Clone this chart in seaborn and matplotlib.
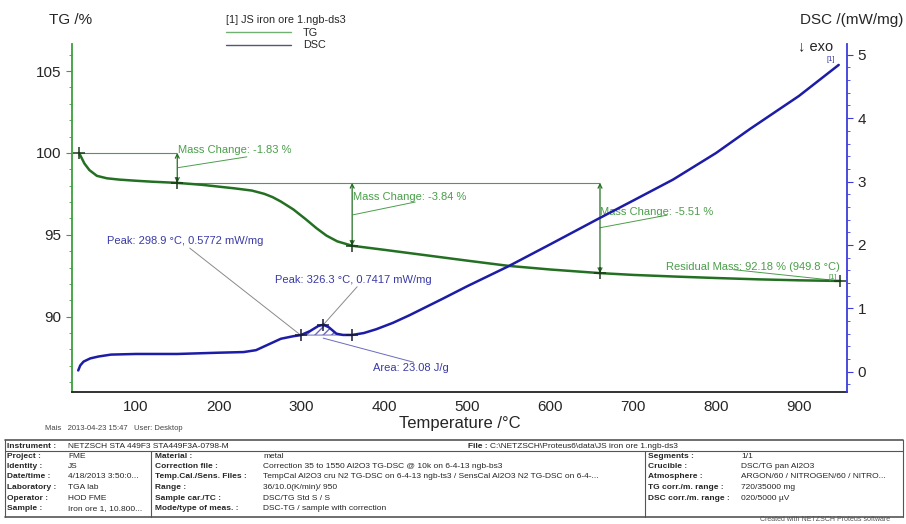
import numpy as np
import pandas as pd
import matplotlib.pyplot as plt
from matplotlib.lines import Line2D
import seaborn as sns

# TG curve (temperature / degC, mass / %)
tg_temp = [31.5, 34, 38, 44, 53, 65, 80, 100, 120, 150, 180, 200, 220, 240, 255,
           265, 275, 290, 305, 318, 330, 343, 361, 400, 450, 500, 550, 600, 660,
           700, 750, 800, 850, 900, 949.8]
tg_mass = [100.0, 99.75, 99.35, 98.95, 98.6, 98.45, 98.37, 98.3, 98.24, 98.17, 98.05,
           97.94, 97.83, 97.7, 97.5, 97.3, 97.03, 96.55, 95.95, 95.4, 94.95, 94.6,
           94.33, 94.08, 93.75, 93.42, 93.1, 92.88, 92.66, 92.55, 92.45, 92.36, 92.28,
           92.22, 92.18]

# DSC curve (temperature / degC, mW/mg)
dsc_temp = [30.5, 33, 37, 45, 55, 70, 100, 150, 200, 230, 245, 260, 275, 290, 298.9,
            310, 320, 326.3, 333, 342, 350, 361, 375, 390, 410, 430, 450, 470, 500,
            549, 600, 659, 700, 748, 800, 841, 900, 948]
dsc_val = [0.02, 0.1, 0.16, 0.21, 0.24, 0.27, 0.28, 0.28, 0.3, 0.31, 0.34, 0.43, 0.52,
           0.56, 0.577, 0.64, 0.72, 0.742, 0.7, 0.6, 0.58, 0.58, 0.61, 0.67, 0.77, 0.89,
           1.02, 1.15, 1.35, 1.66, 2.01, 2.42, 2.7, 3.03, 3.45, 3.83, 4.35, 4.84]

# evaluation results
step_temp = [31.5, 150.0, 361.0, 660.0]
step_mass = [100.0, 98.17, 94.33, 92.66]
mass_change = [-1.83, -3.84, -5.51]
residual_temp = 949.8
residual_mass = 92.18
peak_temp = [298.9, 326.3]
peak_val = [0.5772, 0.7417]
area_end_temp = 361.0
area_end_val = 0.58
area_value = 23.08

sns.set_style("white")
plt.rcParams['font.family'] = ['Liberation Sans', 'DejaVu Sans']

W, H = 906, 524
fig = plt.figure(figsize=(W / 100, H / 100), dpi=100)
ax = fig.add_axes([72 / W, 1 - 392 / H, (847 - 72) / W, (392 - 44) / H])
ax2 = ax.twinx()

tg_green = '#237023'
ann_green = '#4a9e4a'
dsc_blue = '#1c1ca6'
ann_blue = '#3a3aa8'
lead = '#8a8a8a'

tg_df = pd.DataFrame({'Temperature': tg_temp, 'TG': tg_mass})
dsc_df = pd.DataFrame({'Temperature': dsc_temp, 'DSC': dsc_val})
sns.lineplot(data=tg_df, x='Temperature', y='TG', ax=ax, color=tg_green,
             linewidth=1.8, estimator=None, zorder=3)
sns.lineplot(data=dsc_df, x='Temperature', y='DSC', ax=ax2, color=dsc_blue,
             linewidth=1.8, estimator=None, zorder=3)

ax.set_xlim(23, 958)
ax.set_ylim(85.4, 106.65)
ax2.set_ylim(-0.32, 5.17)

# axes styling
for a in (ax, ax2):
    a.spines['top'].set_visible(False)
    a.grid(False)
ax.spines['right'].set_visible(False)
ax.spines['left'].set_color('#3ca03c')
ax.spines['left'].set_linewidth(1.3)
ax.spines['bottom'].set_color('#222222')
ax.spines['bottom'].set_linewidth(1.3)
ax2.spines['left'].set_visible(False)
ax2.spines['bottom'].set_visible(False)
ax2.spines['right'].set_color('#3c3cdc')
ax2.spines['right'].set_linewidth(1.3)

ax.set_xticks([100, 200, 300, 400, 500, 600, 700, 800, 900])
ax.set_xticks(np.arange(25, 951, 25), minor=True)
ax.set_yticks([90, 95, 100, 105])
ax.set_yticks(np.arange(86, 107, 1), minor=True)
ax2.set_yticks([0, 1, 2, 3, 4, 5])
ax2.set_yticks(np.arange(-0.2, 5.1, 0.2), minor=True)

ax.tick_params(axis='x', which='both', direction='in', color='#222222', labelsize=11, pad=6)
ax.tick_params(axis='x', which='major', length=4)
ax.tick_params(axis='x', which='minor', length=2.5)
ax.tick_params(axis='y', which='both', direction='out', color='#3ca03c', labelsize=11,
               left=True)
ax.tick_params(axis='y', which='major', length=4)
ax.tick_params(axis='y', which='minor', length=2)
ax2.tick_params(axis='y', which='both', direction='out', color='#3c3cdc', labelsize=11,
                right=True)
ax2.tick_params(axis='y', which='major', length=4)
ax2.tick_params(axis='y', which='minor', length=2)

ax.set_xlabel('Temperature /°C', fontsize=12, labelpad=1)
ax.set_ylabel('')
ax2.set_ylabel('')

# step reference lines and mass change arrows
ax.hlines(step_mass[0], step_temp[0], step_temp[1], color=ann_green, lw=0.8, zorder=2)
ax.hlines(step_mass[1], step_temp[1], step_temp[3], color=ann_green, lw=0.8, zorder=2)
arrow_spans = [(step_temp[1], step_mass[0], step_mass[1]),
               (step_temp[2], step_mass[1], step_mass[2]),
               (step_temp[3], step_mass[1], step_mass[3])]
for (t, top, bot) in arrow_spans:
    ax.annotate('', xy=(t, bot), xytext=(t, top),
                arrowprops=dict(arrowstyle='<->', color=tg_green, lw=0.9,
                                mutation_scale=7, shrinkA=0, shrinkB=0))

ax.plot(step_temp + [residual_temp], step_mass + [residual_mass], ls='none',
        marker='+', ms=8, mew=1.1, color='#1a3a1a', zorder=4)

mc_text_pos = [(151, 100.18), (362, 97.32), (660, 96.4)]
mc_leaders = [((151, 99.1), (234, 99.76)), ((362, 96.22), (437, 97.0)),
              ((660, 95.43), (741, 96.2))]
for val, (tx, ty), (p0, p1) in zip(mass_change, mc_text_pos, mc_leaders):
    ax.text(tx, ty, f'Mass Change: {val:.2f} %', color=ann_green, fontsize=8,
            va='center', ha='left')
    ax.plot([p0[0], p1[0]], [p0[1], p1[1]], color=ann_green, lw=0.7)

ax.text(949, 93.05, f'Residual Mass: {residual_mass:.2f} % ({residual_temp:.1f} °C)',
        color=ann_green, fontsize=8, ha='right', va='center')
ax.plot([821, 946], [92.87, residual_mass + 0.02], color=ann_green, lw=0.7)
ax.text(946, 92.4, '[1]', color=ann_green, fontsize=5.5, ha='right', va='center')

# DSC peaks and area
ax2.plot(peak_temp + [area_end_temp], peak_val + [area_end_val], ls='none',
         marker='+', ms=8, mew=1.1, color='#1a1a3a', zorder=4)
seg_t = np.array([t for t in dsc_temp if peak_temp[0] <= t <= area_end_temp])
seg_v = np.array([v for t, v in zip(dsc_temp, dsc_val) if peak_temp[0] <= t <= area_end_temp])
base = np.interp(seg_t, [peak_temp[0], area_end_temp], [peak_val[0], area_end_val])
ax2.fill_between(seg_t, base, seg_v, facecolor='none', edgecolor='#6a6ac0',
                 hatch='////', linewidth=0, zorder=2)
ax2.plot([peak_temp[0], area_end_temp], [peak_val[0], area_end_val], color='#6a6ac0', lw=0.7)

ax2.text(65, 2.06, f'Peak: {peak_temp[0]:.1f} °C, {peak_val[0]:.4f} mW/mg',
         color=ann_blue, fontsize=8, va='center')
ax2.plot([165, peak_temp[0]], [1.95, peak_val[0]], color=lead, lw=0.7)
ax2.text(268, 1.45, f'Peak: {peak_temp[1]:.1f} °C, {peak_val[1]:.4f} mW/mg',
         color=ann_blue, fontsize=8, va='center')
ax2.plot([367, peak_temp[1]], [1.34, peak_val[1]], color=lead, lw=0.7)
ax2.text(386, 0.06, f'Area: {area_value:.2f} J/g', color=ann_blue, fontsize=8, va='center')
ax2.plot([326, 435], [0.53, 0.15], color='#6a6ac0', lw=0.7)
ax2.text(944, 4.93, '[1]', color=ann_blue, fontsize=5.5, ha='right', va='center')

# legend
handles = [Line2D([0], [0], color='#70b070', lw=1.0), Line2D([0], [0], color='#555577', lw=1.0)]
leg = ax.legend(handles, ['TG', 'DSC'], title='[1] JS iron ore 1.ngb-ds3',
                loc='upper left', bbox_to_anchor=(226 / W, 1 - 15 / H),
                bbox_transform=fig.transFigure, frameon=False, fontsize=7.8,
                title_fontsize=7.8, handlelength=6, handletextpad=1.1,
                labelspacing=0.25, borderpad=0, borderaxespad=0, alignment='left')

# headers
fig.text(49 / W, 1 - 20 / H, 'TG /%', fontsize=11, va='center', ha='left')
fig.text(903 / W, 1 - 20 / H, 'DSC /(mW/mg)', fontsize=11, va='center', ha='right')
fig.text(798 / W, 1 - 46 / H, '↓ exo', fontsize=10.5, va='center', ha='left')

# footer info
fs = 6
fig.text(45 / W, 1 - 429 / H, 'Mais   2013-04-23 15:47   User: Desktop', fontsize=5.5,
         color='#444444', va='center')


def hline(y, x0, x1, lw=0.8):
    fig.add_artist(Line2D([x0 / W, x1 / W], [1 - y / H, 1 - y / H],
                          transform=fig.transFigure, color='#555555', lw=lw))


def vline(x, y0, y1, lw=0.8):
    fig.add_artist(Line2D([x / W, x / W], [1 - y0 / H, 1 - y1 / H],
                          transform=fig.transFigure, color='#555555', lw=lw))


hline(440, 5, 903, 1.2)
hline(451, 5, 903)
hline(517, 5, 903, 1.2)
vline(5, 440, 517)
vline(903, 440, 517)
vline(151, 451, 517)
vline(645, 451, 517)

fig.text(7 / W, 1 - 446 / H, 'Instrument :', fontsize=fs, weight='bold', va='center')
fig.text(68 / W, 1 - 446 / H, 'NETZSCH STA 449F3 STA449F3A-0798-M', fontsize=fs, va='center')
fig.text(468 / W, 1 - 446 / H, 'File :', fontsize=fs, weight='bold', va='center')
fig.text(490 / W, 1 - 446 / H, 'C:\\NETZSCH\\Proteus6\\data\\JS iron ore 1.ngb-ds3',
         fontsize=fs, va='center')

row_y = [456, 466.5, 477, 487.5, 498, 508.5]
left_labels = ['Project :', 'Identity :', 'Date/time :', 'Laboratory :', 'Operator :', 'Sample :']
left_values = ['FME', 'JS', '4/18/2013 3:50:0...', 'TGA lab', 'HOD FME', 'Iron ore 1, 10.800...']
mid_labels = ['Material :', 'Correction file :', 'Temp.Cal./Sens. Files :', 'Range :',
              'Sample car./TC :', 'Mode/type of meas. :']
mid_values = ['metal', 'Correction 35 to 1550 Al2O3 TG-DSC @ 10k on 6-4-13 ngb-bs3',
              'TempCal Al2O3 cru N2 TG-DSC on 6-4-13 ngb-ts3 / SensCal Al2O3 N2 TG-DSC on 6-4-...',
              '36/10.0(K/min)/ 950', 'DSC/TG Std S / S', 'DSC-TG / sample with correction']
right_labels = ['Segments :', 'Crucible :', 'Atmosphere :', 'TG corr./m. range :',
                'DSC corr./m. range :']
right_values = ['1/1', 'DSC/TG pan Al2O3', 'ARGON/60 / NITROGEN/60 / NITRO...',
                '720/35000 mg', '020/5000 µV']

for y, lab, val in zip(row_y, left_labels, left_values):
    fig.text(7 / W, 1 - y / H, lab, fontsize=fs, weight='bold', va='center')
    fig.text(68 / W, 1 - y / H, val, fontsize=fs, va='center')
for y, lab, val in zip(row_y, mid_labels, mid_values):
    fig.text(155 / W, 1 - y / H, lab, fontsize=fs, weight='bold', va='center')
    fig.text(263 / W, 1 - y / H, val, fontsize=fs, va='center')
for y, lab, val in zip(row_y, right_labels, right_values):
    fig.text(648 / W, 1 - y / H, lab, fontsize=fs, weight='bold', va='center')
    fig.text(741 / W, 1 - y / H, val, fontsize=fs, va='center')

fig.text(760 / W, 1 - 523 / H, 'Created with NETZSCH Proteus software', fontsize=5,
         color='#555555', va='bottom')

fig.savefig('out.png', dpi=100)
